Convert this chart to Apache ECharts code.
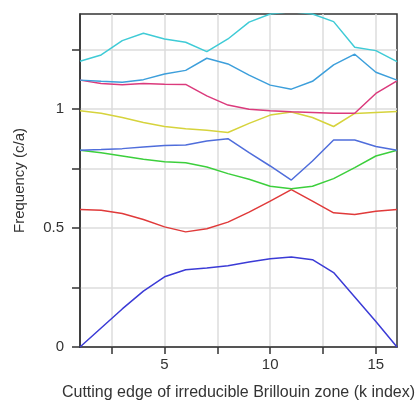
<!DOCTYPE html>
<html><head><meta charset="utf-8">
<script src="https://cdn.jsdelivr.net/npm/echarts@6/dist/echarts.min.js"></script>
<style>html,body{margin:0;padding:0;background:#fff}#c{width:415px;height:400px}</style>
</head><body><div id="c"></div>
<script>
const kIndex = [1,2,3,4,5,6,7,8,9,10,11,12,13,14,15,16];
const band1 = [0,0.08,0.16,0.235,0.295,0.325,0.332,0.342,0.357,0.371,0.378,0.367,0.313,0.21,0.107,0];
const band2 = [0.578,0.575,0.561,0.536,0.505,0.484,0.497,0.525,0.567,0.613,0.662,0.613,0.564,0.557,0.571,0.578];
const band3 = [0.827,0.817,0.803,0.789,0.779,0.775,0.757,0.729,0.705,0.676,0.665,0.676,0.708,0.754,0.803,0.827];
const band4 = [0.827,0.83,0.834,0.841,0.847,0.849,0.866,0.876,0.817,0.761,0.702,0.782,0.870,0.870,0.843,0.827];
const band5 = [0.993,0.983,0.965,0.944,0.927,0.918,0.911,0.902,0.94,0.975,0.988,0.965,0.927,0.982,0.986,0.99];
const band6 = [1.122,1.108,1.103,1.108,1.105,1.104,1.056,1.017,1.0,0.993,0.989,0.986,0.983,0.983,1.066,1.119];
const band7 = [1.122,1.117,1.113,1.124,1.148,1.163,1.214,1.19,1.143,1.101,1.084,1.117,1.186,1.231,1.155,1.122];
const band8 = [1.201,1.228,1.288,1.319,1.295,1.281,1.242,1.295,1.366,1.40,1.41,1.40,1.368,1.26,1.246,1.2];
const bands = [band1,band2,band3,band4,band5,band6,band7,band8];
const colors = ['#3b3bd6','#e03a3a','#3ccf3c','#4f6ddb','#d6d33c','#db3a7c','#3d9fdb','#3fcbd6'];
const xTicks = [2.5,5,7.5,10,12.5,15];
const xLabels = [5,10,15];
const yTicks = [0,0.25,0.5,0.75,1,1.25];
const yLabels = [0,0.5,1];

const chart = echarts.init(document.getElementById('c'), null, {renderer:'canvas'});
const font = 'Liberation Sans, Arial, sans-serif';
chart.setOption({
  animation:false,
  grid:{left:80,right:18,top:14,bottom:53,outerBoundsMode:'none',containLabel:false,show:true,borderColor:'#333',borderWidth:1.5,backgroundColor:'transparent'},
  xAxis:{
    type:'value',min:1,max:16,
    name:'Cutting edge of irreducible Brillouin zone (k index)',
    nameLocation:'middle',nameGap:38,
    nameTextStyle:{fontFamily:font,fontSize:16,color:'#333'},
    axisLine:{show:true,lineStyle:{color:'#333',width:1.5}},
    axisTick:{show:true,inside:false,length:7,customValues:xTicks,lineStyle:{color:'#333',width:1.5}},
    axisLabel:{customValues:xLabels,margin:10,fontFamily:font,fontSize:15,color:'#333'},
    splitLine:{show:true,lineStyle:{color:'#dddddd',width:1.5}}
  },
  yAxis:{
    type:'value',min:0,max:1.4,
    name:'Frequency (c/a)',
    nameLocation:'middle',nameGap:53,
    nameTextStyle:{fontFamily:font,fontSize:15,color:'#333'},
    axisLine:{show:true,lineStyle:{color:'#333',width:1.5}},
    axisTick:{show:true,inside:false,length:8,customValues:yTicks,lineStyle:{color:'#333',width:1.5}},
    axisLabel:{customValues:yLabels,margin:16,fontFamily:font,fontSize:15,color:'#333'},
    splitLine:{show:true,lineStyle:{color:'#dddddd',width:1.5}}
  },
  series: bands.map((b,i)=>({
    type:'line',
    data:kIndex.map((k,j)=>[k,b[j]]),
    symbol:'none',
    clip:true,
    lineStyle:{color:colors[i],width:1.5},
    itemStyle:{color:colors[i]}
  }))
});
</script></body></html>
